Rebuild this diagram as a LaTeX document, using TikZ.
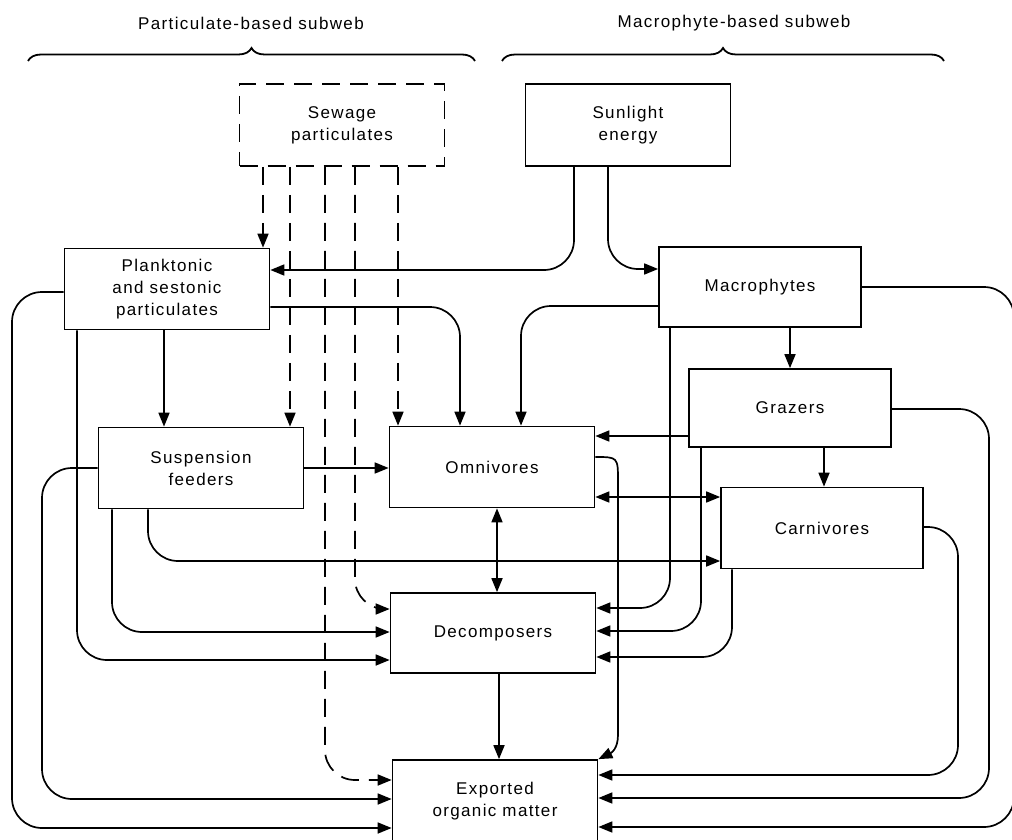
\documentclass[tikz,border=0pt]{standalone}
\usepackage{fontspec}
\setmainfont{Liberation Sans}[LetterSpace=8]
\usetikzlibrary{arrows.meta,decorations.pathreplacing}

\begin{document}
\begin{tikzpicture}[x=1pt,y=-1pt,
        font=\fontsize{17}{22}\selectfont,
        box/.style={draw, line width=1.7pt, minimum width=205pt, minimum height=81pt, align=center, inner sep=0pt},
        flow/.style={line width=1.7pt, rounded corners=30pt, -{Triangle[length=14pt,width=11pt]}},
        both/.style={flow, {Triangle[length=14pt,width=11pt]}-{Triangle[length=14pt,width=11pt]}},
        sewflow/.style={flow, dash pattern=on 18pt off 10pt}]
        \useasboundingbox (0,0) rectangle (1012,840);
        % Subweb
        \node (lpart) at (251,23) {Particulate-based subweb};
        \node (lmacro) at (734,23) {Macrophyte-based subweb};
        \draw[decorate, decoration={brace, amplitude=13pt}, line width=1.8pt] (28,61) -- (475,61);
        \draw[decorate, decoration={brace, amplitude=13pt}, line width=1.8pt] (502,61) -- (944,61);
        % Boxes
        \node[box, dash pattern=on 18pt off 10pt, minimum height=82pt] (sew) at (342,125) {Sewage\\particulates};
        \node[box, minimum height=82pt] (sun) at (628,125) {Sunlight\\energy};
        \node[box] (plank) at (167,289) {Planktonic\\and sestonic\\particulates};
        \node[box, minimum width=202pt, minimum height=80pt] (macro) at (760,287) {Macrophytes};
        \node[box, minimum width=202pt, minimum height=78pt] (grazers) at (790,408) {Grazers};
        \node[box, minimum width=202pt] (carn) at (822,528) {Carnivores};
        \node[box] (susp) at (201,468) {Suspension\\feeders};
        \node[box] (omni) at (492,467) {Omnivores};
        \node[box, minimum height=80pt] (decomp) at (493,633) {Decomposers};
        \node[box, minimum height=82pt] (export) at (495,801) {Exported\\organic matter};
        % Sewage
        \draw[sewflow] (sew.south -| 263,0) -- (plank.north -| 263,0);
        \draw[sewflow] (sew.south -| 290,0) -- (susp.north -| 290,0);
        \draw[sewflow] (sew.south -| 325,0) |- (export.west |- 0,780);
        \draw[sewflow] (sew.south -| 355,0) |- (decomp.west |- 0,609);
        \draw[sewflow] (sew.south -| 398,0) -- (omni.north -| 398,0);
        % Sunlight
        \draw[flow] (sun.south -| 574,0) |- (plank.east |- 0,270);
        \draw[flow] (sun.south -| 608,0) |- (macro.west |- 0,269);
        % Planktonic
        \draw[flow] (plank.south -| 164,0) -- (susp.north -| 164,0);
        \draw[flow] (plank.east |- 0,307) -| (omni.north -| 460,0);
        \draw[flow] (plank.south -| 77,0) |- (decomp.west |- 0,660);
        \draw[flow] (plank.west |- 0,292) -| (12,828) -- (export.west |- 0,828);
        % Suspension feeders
        \draw[flow] (susp.east |- 0,468) -- (omni.west |- 0,468);
        \draw[flow] (susp.south -| 112,0) |- (decomp.west |- 0,632);
        \draw[flow] (susp.south -| 148,0) |- (carn.west |- 0,561);
        \draw[flow] (susp.west |- 0,468) -| (42,799) -- (export.west |- 0,799);
        % Omnivores
        \draw[both] (omni.south -| 497,0) -- (decomp.north -| 497,0);
        \draw[both] (omni.east |- 0,497) -- (carn.west |- 0,497);
        \draw[flow, sharp corners] (omni.east |- 0,457) .. controls (618,457) .. (618,482) -- (618,735) .. controls (618,749) and (611,753) .. (export.north east);
        % Macrophytes
        \draw[flow] (macro.west |- 0,306) -| (omni.north -| 521,0);
        \draw[flow] (macro.south -| 670,0) |- (decomp.east |- 0,608);
        \draw[flow] (macro.south -| 790,0) -- (grazers.north -| 790,0);
        \draw[flow] (macro.east |- 0,287) -| (1014,827) -- (export.east |- 0,827);
        % Grazers
        \draw[flow] (grazers.west |- 0,436) -- (omni.east |- 0,436);
        \draw[flow] (grazers.south -| 701,0) |- (decomp.east |- 0,631);
        \draw[flow] (grazers.south -| 824,0) -- (carn.north -| 824,0);
        \draw[flow] (grazers.east |- 0,409) -| (989,798) -- (export.east |- 0,798);
        % Carnivores
        \draw[flow] (carn.south -| 732,0) |- (decomp.east |- 0,657);
        \draw[flow] (carn.east |- 0,527) -| (958,775) -- (export.east |- 0,775);
        % Decomposers
        \draw[flow] (decomp.south -| 499,0) -- (export.north -| 499,0);
    \end{tikzpicture}
\end{document}
